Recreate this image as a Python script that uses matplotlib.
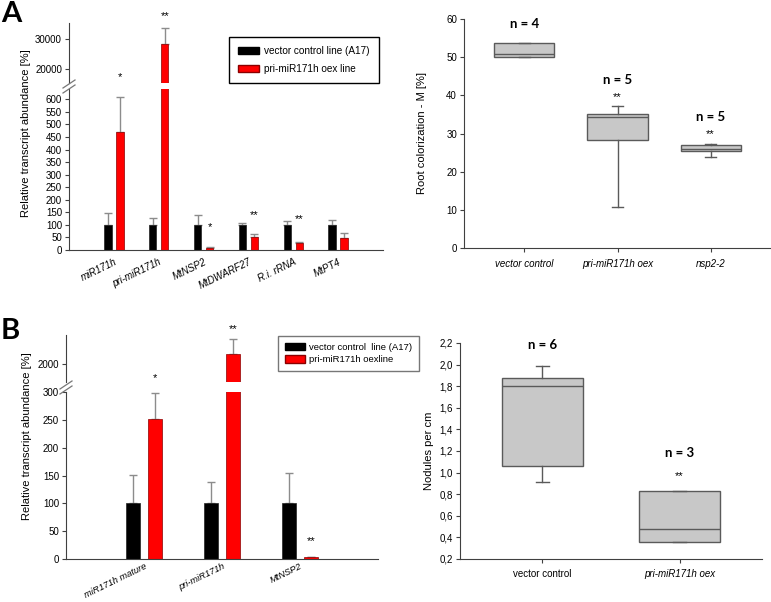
import numpy as np
import matplotlib.pyplot as plt
from matplotlib.lines import Line2D
from matplotlib.patches import Patch
from matplotlib.ticker import FuncFormatter

plt.rcParams['font.family'] = 'Liberation Sans'

# A left: transcript levels (% of control)
genesA = ['miR171h', 'pri-miR171h', 'MtNSP2', 'MtDWARF27', 'R.i. rRNA', 'MtPT4']
ctrlA = [100, 100, 100, 100, 100, 100]
ctrlA_err = [48, 26, 40, 8, 14, 21]
oexA = [470, 28300, 8, 53, 27, 47]
oexA_err = [140, 5400, 5, 9, 6, 20]

# A right: root colonization (boxes)
groupsM = ['vector control', 'pri-miR171h oex', 'nsp2-2']
colon_med = [50.7, 34.2, 26.0]
colon_q1 = [50.0, 28.2, 25.5]
colon_q3 = [53.7, 35.0, 27.0]
colon_lo = [50.0, 10.8, 23.8]
colon_hi = [53.7, 37.3, 27.2]
colon_n = [4, 5, 5]

# B left: transcript levels
genesB = ['miR171h mature', 'pri-miR171h', 'MtNSP2']
ctrlB = [100, 100, 100]
ctrlB_err = [51, 39, 55]
oexB = [251, 2110, 3]
oexB_err = [48, 166, 1]

# B right: nodules per cm
groupsN = ['vector control', 'pri-miR171h oex']
nod_med = [1.80, 0.48]
nod_q1 = [1.06, 0.355]
nod_q3 = [1.875, 0.83]
nod_lo = [0.915, 0.355]
nod_hi = [1.985, 0.83]
nod_n = [6, 3]

W, H = 771, 602
fig = plt.figure(figsize=(W / 100, H / 100), dpi=100)
axc = '#404040'


def rect(x0, y0, x1, y1):
    # pixel box -> figure fraction
    return [x0 / W, 1 - y1 / H, (x1 - x0) / W, (y1 - y0) / H]


def style(ax):
    ax.set_facecolor('none')
    for s in ['top', 'right']:
        ax.spines[s].set_visible(False)
    for s in ['left', 'bottom']:
        ax.spines[s].set_color(axc)
    ax.tick_params(axis='y', direction='out', length=3, color=axc, labelsize=7, pad=2)


def slash(x, y):
    for dy in (0, 5):
        fig.add_artist(Line2D([(x - 6) / W, (x + 6) / W],
                              [1 - (y + 4 + dy) / H, 1 - (y - 4 + dy) / H],
                              color='#777777', lw=0.9))


def broken_bars(ax_lo, ax_hi, names, ctrl, ctrl_err, oex, oex_err, off, w, fs):
    x = np.arange(len(names))
    for ax in (ax_lo, ax_hi):
        ax.bar(x - off, ctrl, w, color='black', edgecolor='#222222', lw=0.5, zorder=2)
        ax.bar(x + off, oex, w, color='#ff0000', edgecolor='#8a0000', lw=0.5, zorder=2)
        ax.errorbar(x - off, ctrl, yerr=[np.zeros(len(x)), ctrl_err], fmt='none',
                    ecolor='#8c8c8c', elinewidth=1, capsize=3, zorder=1)
        ax.errorbar(x + off, oex, yerr=[np.zeros(len(x)), oex_err], fmt='none',
                    ecolor='#8c8c8c', elinewidth=1, capsize=3, zorder=1)
        ax.set_xlim(-1, len(names))
        style(ax)
    ax_hi.spines['bottom'].set_visible(False)
    ax_hi.set_xticks([])
    ax_lo.set_xticks(x)
    ax_lo.set_xticklabels(names, rotation=26, ha='right', rotation_mode='anchor',
                          fontsize=fs, style='italic')
    ax_lo.tick_params(axis='x', length=0, pad=5)
    return x


# ---- A left ----
axA_lo = fig.add_axes(rect(69, 89.3, 383, 250))
axA_hi = fig.add_axes(rect(69, 23, 383, 83.3))
xA = broken_bars(axA_lo, axA_hi, genesA, ctrlA, ctrlA_err, oexA, oexA_err, 0.133, 0.167, 7)
axA_lo.set_ylim(0, 640)
axA_lo.set_yticks(np.arange(0, 601, 50))
axA_hi.set_ylim(15000, 35500)
axA_hi.set_yticks([20000, 30000])
slash(69, 84)
axA_hi.text(xA[0] + 0.133, 17200, '*', ha='center', va='center', fontsize=8)
axA_hi.text(xA[1] + 0.133, 38000, '**', ha='center', va='center', fontsize=8, clip_on=False)
for i, s, y in [(2, '*', 90), (3, '**', 140), (4, '**', 125)]:
    axA_lo.text(xA[i] + 0.133, y, s, ha='center', va='center', fontsize=8)
fig.text(26 / W, 1 - 133 / H, 'Relative transcript abundance [%]', rotation=90,
         ha='center', va='center', fontsize=8)
fig.legend(handles=[Patch(fc='black', ec='black'), Patch(fc='#ff0000', ec='#8a0000')],
           labels=['vector control line (A17)', 'pri-miR171h oex line'],
           loc='upper left', bbox_to_anchor=(229 / W, 1 - 37 / H), fontsize=7.2,
           fancybox=False, edgecolor='black', framealpha=1, handlelength=2.1,
           handleheight=0.7, handletextpad=0.5, borderpad=0.9, borderaxespad=0,
           labelspacing=0.75)

# ---- A right ----
axM = fig.add_axes(rect(464, 19, 771, 248))
style(axM)
statsM = [dict(med=m, q1=a, q3=b, whislo=lo, whishi=hi, fliers=[])
          for m, a, b, lo, hi in zip(colon_med, colon_q1, colon_q3, colon_lo, colon_hi)]
bp_kw = dict(patch_artist=True, showfliers=False,
             boxprops=dict(facecolor='#c8c8c8', edgecolor='#5a5a5a', lw=1),
             medianprops=dict(color='#5a5a5a', lw=1),
             whiskerprops=dict(color='#5a5a5a', lw=1),
             capprops=dict(color='#5a5a5a', lw=1))
posM = np.arange(1, len(groupsM) + 1)
axM.bxp(statsM, positions=posM, widths=0.645, capwidths=0.12, **bp_kw)
axM.set_xlim(0.35, 3.65)
axM.set_ylim(0, 60)
axM.set_yticks(np.arange(0, 61, 10))
axM.set_xticks(posM)
axM.set_xticklabels(groupsM, fontsize=7, style='italic')
axM.tick_params(axis='x', length=3, color=axc, pad=5)
axM.set_ylabel('Root colorization - M [%]', fontsize=8, labelpad=14)
for p, n, y in zip(posM, colon_n, [58.7, 44.0, 34.3]):
    axM.text(p, y, f'n = {n}', ha='center', va='center', fontsize=9.5,
             fontweight='bold', family='Lato', clip_on=False)
axM.text(posM[1], 39.6, '**', ha='center', va='center', fontsize=8)
axM.text(posM[2], 29.9, '**', ha='center', va='center', fontsize=8)

# ---- B left ----
axB_lo = fig.add_axes(rect(66, 392, 378, 559))
axB_hi = fig.add_axes(rect(66, 335, 378, 382))
xB = broken_bars(axB_lo, axB_hi, genesB, ctrlB, ctrlB_err, oexB, oexB_err, 0.147, 0.18, 6.7)
axB_lo.tick_params(axis='x', pad=2)
axB_lo.set_ylim(0, 300)
axB_lo.set_yticks(np.arange(0, 301, 50))
axB_hi.set_ylim(1800, 2320)
axB_hi.set_yticks([2000])
slash(66, 385)
axB_hi.text(xB[0] + 0.147, 1845, '*', ha='center', va='center', fontsize=8, clip_on=False)
axB_hi.text(xB[1] + 0.147, 2386, '**', ha='center', va='center', fontsize=8, clip_on=False)
axB_lo.text(xB[2] + 0.147, 32, '**', ha='center', va='center', fontsize=8)
fig.text(27 / W, 1 - 436 / H, 'Relative transcript abundance [%]', rotation=90,
         ha='center', va='center', fontsize=8)
fig.legend(handles=[Patch(fc='black', ec='black'), Patch(fc='#ff0000', ec='#8a0000')],
           labels=['vector control  line (A17)', 'pri-miR171h oexline'],
           loc='upper left', bbox_to_anchor=(278 / W, 1 - 336 / H), fontsize=6.8,
           fancybox=False, edgecolor='#777777', framealpha=1, handlelength=2.2,
           handleheight=0.8, handletextpad=0.4, borderpad=0.7, borderaxespad=0,
           labelspacing=0.4)

# ---- B right ----
axN = fig.add_axes(rect(460, 343, 762, 559))
style(axN)
statsN = [dict(med=m, q1=a, q3=b, whislo=lo, whishi=hi, fliers=[])
          for m, a, b, lo, hi in zip(nod_med, nod_q1, nod_q3, nod_lo, nod_hi)]
posN = np.arange(1, len(groupsN) + 1)
axN.bxp(statsN, positions=posN, widths=0.59, capwidths=0.095, **bp_kw)
axN.set_xlim(0.4, 2.6)
axN.set_ylim(0.2, 2.2)
axN.set_yticks(np.arange(0.2, 2.21, 0.2))
axN.yaxis.set_major_formatter(FuncFormatter(lambda v, p: f'{v:.1f}'.replace('.', ',')))
axN.set_xticks(posN)
axN.set_xticklabels(groupsN, fontsize=7)
axN.get_xticklabels()[1].set_style('italic')
axN.tick_params(axis='x', length=3, color=axc, pad=4)
axN.set_ylabel('Nodules per cm', fontsize=8, labelpad=4)
for p, n, y in zip(posN, nod_n, [2.18, 1.18]):
    axN.text(p, y, f'n = {n}', ha='center', va='center', fontsize=9.5,
             fontweight='bold', family='Lato', clip_on=False)
axN.text(posN[1], 0.97, '**', ha='center', va='center', fontsize=8)

fig.text(1 / W, 1 - 1 / H, 'A', fontsize=21, fontweight='bold', family='Lato',
         ha='left', va='top')
fig.text(1 / W, 1 - 318 / H, 'B', fontsize=21, fontweight='bold', family='Lato',
         ha='left', va='top')

fig.savefig('out.png', dpi=100)
